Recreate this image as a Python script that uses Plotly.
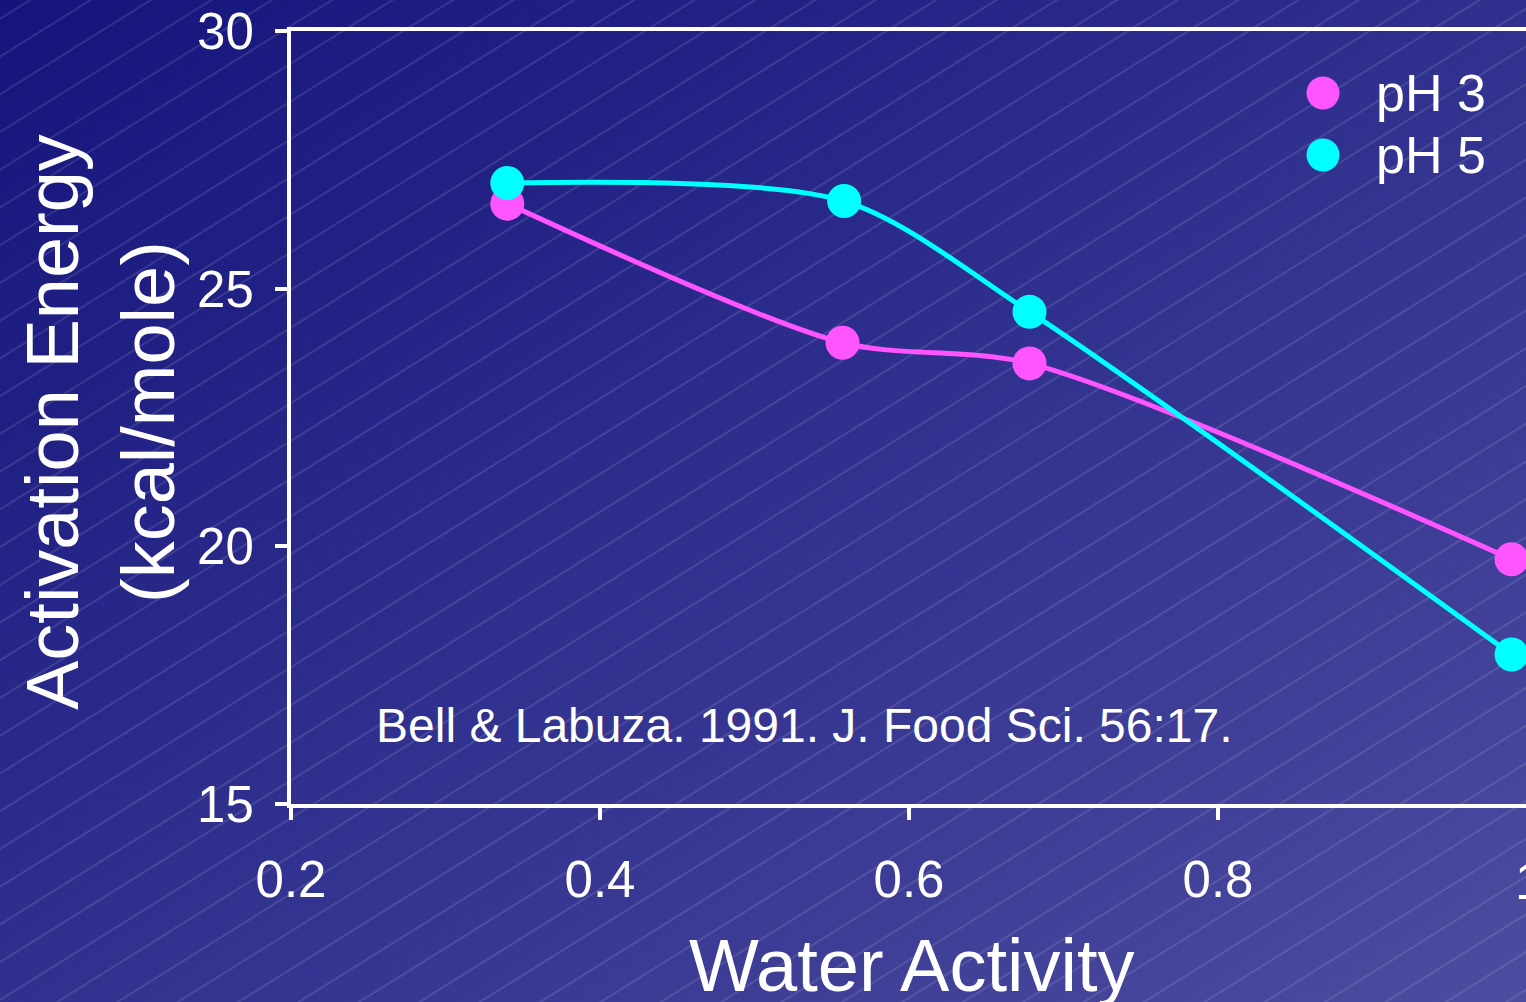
import base64
import plotly.graph_objects as go

# ---- data ----
water_activity = [0.34, 0.557, 0.678, 0.99]
ph3_energy = [26.65, 23.95, 23.55, 19.75]
ph5_water_activity = [0.34, 0.558, 0.678, 0.99]
ph5_energy = [27.05, 26.7, 24.55, 17.9]
series_names = ["pH 3", "pH 5"]
series_colors = ["#FF55FF", "#00FFFF"]
x_ticks = [0.2, 0.4, 0.6, 0.8]
x_tick_labels = ["0.2", "0.4", "0.6", "0.8"]
y_ticks = [15, 20, 25, 30]
citation = "Bell &amp; Labuza. 1991. J. Food Sci. 56:17."

W, H = 1526, 1002
ML, MT, MB, MR = 291, 31, 198, 0
PW, PH = W - ML - MR, H - MT - MB
FONT = "Liberation Sans, Arial, sans-serif"

def px_x(px):
    return (px - ML) / PW

def px_y(py):
    return (H - MB - py) / PH

svg = f'''<svg xmlns="http://www.w3.org/2000/svg" width="{W}" height="{H}" viewBox="0 0 {W} {H}">
<defs>
<linearGradient id="g" x1="0" y1="0" x2="1" y2="1">
<stop offset="0" stop-color="#14147C"/>
<stop offset="1" stop-color="#4C4CA0"/>
</linearGradient>
<pattern id="p" width="40" height="32" patternUnits="userSpaceOnUse" patternTransform="rotate(-32)">
<line x1="-5" y1="16" x2="45" y2="16" stroke="#ffffff" stroke-opacity="0.22" stroke-width="1"/>
</pattern>
</defs>
<rect x="0" y="0" width="{W}" height="{H}" fill="url(#g)"/>
<rect x="0" y="0" width="{W}" height="{H}" fill="url(#p)"/>
</svg>'''
bg_uri = "data:image/svg+xml;base64," + base64.b64encode(svg.encode()).decode()

fig = go.Figure()
fig.add_trace(go.Scatter(
    x=water_activity, y=ph3_energy, name=series_names[0], mode="lines+markers",
    line=dict(color=series_colors[0], width=5, shape="spline", smoothing=0.8),
    marker=dict(color=series_colors[0], size=34), showlegend=False))
fig.add_trace(go.Scatter(
    x=ph5_water_activity, y=ph5_energy, name=series_names[1], mode="lines+markers",
    line=dict(color=series_colors[1], width=5, shape="spline", smoothing=0.8),
    marker=dict(color=series_colors[1], size=34), showlegend=False))

x_end = 0.2 + (W - ML) / 1545.0

fig.update_xaxes(
    range=[0.2, x_end], tickvals=x_ticks, ticktext=x_tick_labels,
    showgrid=False, zeroline=False, showline=True, linecolor="white", linewidth=4,
    mirror=True, ticks="outside", ticklen=12, tickwidth=4, tickcolor="white",
    ticklabelstandoff=16,
    tickfont=dict(family=FONT, size=51, color="white"),
)
fig.update_yaxes(
    range=[15, 30], tickvals=y_ticks,
    showgrid=False, zeroline=False, showline=True, linecolor="white", linewidth=4,
    mirror=False, ticks="outside", ticklen=12, tickwidth=4, tickcolor="white",
    ticklabelstandoff=11,
    tickfont=dict(family=FONT, size=51, color="white"),
)

annotations = [
    dict(text="Activation Energy<br>(kcal/mole)", xref="paper", yref="paper",
         x=px_x(100), y=px_y(422), textangle=-90, showarrow=False,
         xanchor="center", yanchor="middle",
         font=dict(family=FONT, size=74, color="white")),
    dict(text="Water Activity", xref="paper", yref="paper",
         x=px_x(912), y=px_y(966), showarrow=False,
         xanchor="center", yanchor="middle",
         font=dict(family=FONT, size=74, color="white")),
    dict(text=citation, xref="paper", yref="paper",
         x=px_x(374), y=px_y(725), showarrow=False,
         xanchor="left", yanchor="middle",
         font=dict(family=FONT, size=48, color="white")),
    dict(text="1", xref="paper", yref="paper",
         x=px_x(1528.5), y=px_y(881), showarrow=False,
         xanchor="center", yanchor="middle",
         font=dict(family=FONT, size=51, color="white")),
]
shapes = []
for i, (name, col) in enumerate(zip(series_names, series_colors)):
    cy = 93 + 62 * i
    annotations.append(dict(text=name, xref="paper", yref="paper",
                            x=px_x(1374), y=px_y(cy), showarrow=False,
                            xanchor="left", yanchor="middle",
                            font=dict(family=FONT, size=52, color="white")))
    shapes.append(dict(type="circle", xref="paper", yref="paper",
                       xsizemode="pixel", ysizemode="pixel",
                       xanchor=px_x(1323), yanchor=px_y(cy),
                       x0=-16.5, x1=16.5, y0=-16.5, y1=16.5,
                       fillcolor=col, line=dict(width=0)))

fig.update_layout(
    width=W, height=H,
    margin=dict(l=ML, r=MR, t=MT, b=MB, pad=0),
    paper_bgcolor="#2E2E8C", plot_bgcolor="rgba(0,0,0,0)",
    font=dict(family=FONT, color="white"),
    annotations=annotations, shapes=shapes,
    images=[dict(source=bg_uri, xref="paper", yref="paper",
                 x=-ML / PW, y=1 + MT / PH, sizex=W / PW, sizey=H / PH,
                 xanchor="left", yanchor="top", sizing="stretch", layer="below")],
)

fig.write_html(
    "out.html",
    config={"displayModeBar": False},
    post_script="document.body.style.margin='0';document.body.style.overflow='hidden';",
)
